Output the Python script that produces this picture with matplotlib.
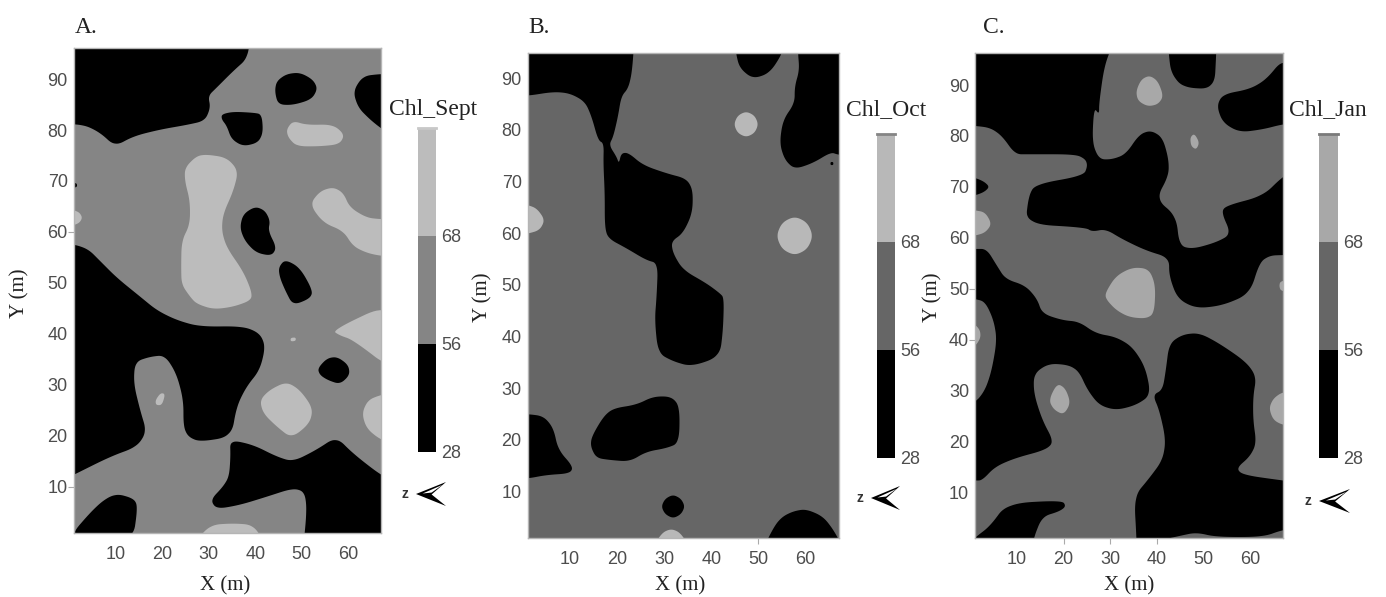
import matplotlib
matplotlib.use('Agg')
import matplotlib.pyplot as plt
import numpy as np

# Legend classes
cb_labels = ['28', '56', '68']
x_ticks = [10, 20, 30, 40, 50, 60]
y_ticks = [10, 20, 30, 40, 50, 60, 70, 80, 90]

# Sept - low class
sept_low_1 = [(-3, 100), (39, 100), (38.5, 94.2), (35.3, 91.6), (31.7, 88.3), (29.9, 86.7), (30.4, 84.4), (29.2, 81.8),
              (25.3, 81), (19.6, 80.1), (13.9, 78.8), (9.9, 76.8), (6.7, 79.5), (3.1, 81.1), (-3, 81.2)]
sept_low_2 = [(44.6, 89.6), (46.7, 91), (49.6, 91.3), (52.4, 89.9), (53.4, 88.1), (52.1, 86), (48.1, 84.9), (44.9, 85), (44.2, 87.6)]
sept_low_3 = [(70, 91), (66.9, 91), (63.1, 90.6), (61, 87.6), (62.1, 84.4), (64.6, 82.1), (66.9, 80.4), (70, 78.5)]
sept_low_4 = [(32.8, 83.1), (35.3, 83.6), (39.6, 83.4), (41.4, 83.1), (41.7, 79.5), (40.6, 77.5), (37.4, 76.8), (34.9, 78.2), (33.9, 80.8), (32.8, 82.1)]
sept_low_5 = [(40, 65), (42.1, 64.2), (43.2, 62.2), (42.8, 60.2), (44.6, 56.9), (43.5, 55.3), (40.2, 55.9), (37.8, 58.2), (36.7, 60.8), (37.4, 63.5)]
sept_low_6 = [(46.4, 54.6), (49.6, 53), (52.4, 48.4), (51.7, 46.9), (48.1, 45.6), (46.5, 48.4), (45.3, 51), (45, 53)]
sept_low_7 = [(-3, 57.6), (1, 57.6), (4.2, 56.6), (6.7, 54.3), (10.3, 51), (15.3, 47.3), (18.9, 44.6), (23.1, 42.7), (28.1, 41.4),
              (37.4, 41.5), (41, 40.1), (42.2, 37.5), (41, 32.9), (38.1, 29.6), (36, 25.7), (34.9, 19.8), (28.1, 18.8), (25.6, 19.8),
              (24.6, 21.8), (24.6, 27), (23.1, 32.2), (20.6, 35.8), (17.4, 35.5), (14.2, 34.5), (13.9, 30.3), (15.3, 25), (16.7, 20.8),
              (14.6, 17.8), (8.9, 15.9), (1, 12.3), (-3, 10.5)]
sept_low_8 = [(34.6, 19.2), (39.6, 18.2), (44.6, 15.9), (48.1, 14.9), (53.1, 17.2), (57.4, 19.8), (61, 16.5), (66.9, 12.3), (70, 11),
              (70, -3), (50.2, -3), (51.1, 5.4), (50.6, 9), (48.1, 9.7), (42.4, 8), (36.7, 6.4), (31.7, 5.6), (30.4, 7.4), (33.1, 10), (34.4, 12), (34.7, 15.9)]
sept_low_9 = [(-1, -1), (6, 6.4), (9.9, 8.7), (13.9, 7.7), (14.8, 6.1), (13.7, -1)]
sept_low_10 = [(53.4, 33.2), (55.4, 35.2), (57.6, 35.5), (60, 33.9), (60.3, 31.9), (58.2, 30.1), (55.6, 30.9), (53.9, 31.9)]
sept_low_11 = [(0.5, 69.6), (1.7, 69.6), (1.8, 68.8), (0.5, 68.6)]
sept_low = [sept_low_1, sept_low_2, sept_low_3, sept_low_4, sept_low_5, sept_low_6, sept_low_7, sept_low_8, sept_low_9, sept_low_10, sept_low_11]

# Sept - high class
sept_high_1 = [(46.7, 80.1), (48.1, 81.8), (51, 81), (56.7, 81.1), (59.2, 79.1), (58.1, 77.2), (53.9, 76.8), (48.9, 76.8), (47.1, 78.5)]
sept_high_2 = [(24.9, 72.6), (27.4, 74.9), (29.6, 75.2), (33.9, 74.6), (36.4, 72), (35.3, 68), (33.1, 63.5), (32.8, 60.2), (33.9, 56.9),
               (37.4, 52.3), (39.2, 48.4), (39.2, 46.6), (35.3, 45.3), (31, 44.8), (27.4, 45.9), (26, 47.3), (24.2, 49.7), (24.1, 53),
               (24.2, 58.2), (26, 61.5), (26, 66.1), (24.9, 70)]
sept_high_3 = [(51.7, 65.4), (53.9, 68), (56.7, 68.8), (58.9, 67.7), (60.3, 64.8), (63.9, 62.8), (66.9, 62.5), (70, 62.5), (70, 55.2),
               (66.9, 55.3), (63.9, 55.9), (61, 57.2), (58.9, 60.2), (54.6, 61.8)]
sept_high_4 = [(-1, 64.5), (1, 64.3), (2.3, 63.8), (2.9, 62.8), (2.3, 61.8), (1, 61.3), (-1, 61)]
sept_high_5 = [(41, 27), (43.1, 29), (46.7, 30.6), (49.6, 29), (52.4, 25.4), (51.7, 22.4), (47.8, 19.5), (44.6, 21.8), (41.7, 24.4)]
sept_high_6 = [(18.6, 27), (19.7, 28.4), (20.7, 28.2), (20, 26), (18.7, 26)]
sept_high_7 = [(56.5, 40.7), (70, 46.5), (70, 32.5), (61, 38.8), (58.1, 39.7)]
sept_high_8 = [(47.6, 39.2), (48.7, 39.3), (48.7, 38.6), (47.6, 38.5)]
sept_high_9 = [(70, 28.5), (66.9, 28), (64.2, 27), (62.9, 24.4), (63.9, 21.4), (66.9, 19.2), (70, 18.5)]
sept_high_10 = [(27, -1), (30.3, 2.5), (35.3, 2.8), (39.6, 2.5), (42, -1)]
sept_high = [sept_high_1, sept_high_2, sept_high_3, sept_high_4, sept_high_5, sept_high_6, sept_high_7, sept_high_8, sept_high_9, sept_high_10]

# Oct - low class
oct_low_1 = [(-3, 98), (23.7, 98), (23.2, 91.3), (22.4, 88.1), (20.9, 86.5), (20.2, 82.6), (19.2, 78.7), (18.3, 77.1), (19.9, 74.8), (20.4, 73.5),
             (20.9, 75.5), (22.4, 75.6), (25.5, 73.2), (30.5, 71.6), (34.7, 70.6), (36.1, 68.4), (36, 63.9), (34, 60), (31.5, 58.4), (31.9, 56.1),
             (34, 52.9), (39, 50.3), (41.8, 48.4), (42.7, 47.5), (42.5, 41.3), (41.8, 36.1), (35.8, 34.2), (31.9, 35.2), (28.7, 36.8), (28, 43.2),
             (28.4, 47.7), (28.7, 54.2), (26.2, 54.8), (22, 57.1), (18.1, 59), (17.4, 61.3), (17.4, 67.7), (17.1, 73.5), (17.2, 77.4), (16, 78),
             (14.6, 82.6), (13.2, 85.5), (10, 87.1), (6.5, 87.4), (1, 86.6), (-3, 86.6)]
oct_low_2 = [(45, 98), (45.2, 95), (46, 92), (48.8, 89.9), (52.4, 91), (55.2, 95), (55.6, 98)]
oct_low_3 = [(58.4, 98), (58.4, 95), (58.7, 91.6), (57.7, 88.4), (57.7, 85.2), (55.2, 81.9), (54.5, 77.4), (55.6, 74.2), (57.7, 72.4),
             (61.6, 73.6), (65.4, 75.7), (66.9, 75.2), (70, 75), (70, 98)]
oct_low_4 = [(-3, 25), (1, 25), (4.4, 24.6), (6.5, 22.3), (7.5, 18.1), (10.7, 14.8), (10, 13.5), (5, 13.2), (1, 12.5), (-3, 12.5)]
oct_low_5 = [(14.6, 20.6), (17.1, 24.5), (19.2, 26.1), (24.1, 26.8), (27.7, 28.4), (31.5, 28.4), (33.3, 26.5), (33.2, 19.4), (30.5, 18.4),
             (26.2, 17.7), (22.7, 15.8), (18.5, 16.1), (15.6, 16.5), (14.4, 18.7)]
oct_low_6 = [(31.9, 9.4), (33.6, 8.6), (34.4, 7.1), (33.6, 5.6), (31.9, 4.8), (30.2, 5.6), (29.4, 7.1), (30.2, 8.6)]
oct_low_7 = [(51, -1), (53.5, 3.5), (55.2, 5.2), (57.5, 6.2), (60.1, 6.6), (63.7, 5.2), (66, 2.5), (68, -1)]
oct_low_8 = [(65.3, 73.8), (65.9, 73.8), (65.9, 73.2), (65.3, 73.2)]
oct_low = [oct_low_1, oct_low_2, oct_low_3, oct_low_4, oct_low_5, oct_low_6, oct_low_7, oct_low_8]

# Oct - high class
oct_high_1 = [(47.4, 83.6), (49.2, 82.8), (50, 81.1), (49.2, 79.4), (47.4, 78.6), (45.6, 79.4), (44.8, 81.1), (45.6, 82.8)]
oct_high_2 = [(57.7, 63.3), (60.4, 62.1), (61.6, 59.5), (60.4, 56.9), (57.7, 55.7), (55, 56.9), (53.8, 59.5), (55, 62.1)]
oct_high_3 = [(-1, 65.5), (1, 65.5), (3, 64.8), (4.7, 62.6), (3.6, 60.6), (1, 59.9), (-1, 59.9)]
oct_high_4 = [(27.5, -1), (29.5, 2), (31.5, 2.8), (33.5, 2), (35.5, -1)]
oct_high = [oct_high_1, oct_high_2, oct_high_3, oct_high_4]

# Jan - low class
jan_low_1 = [(-3, 98), (30.5, 98), (28.7, 93.7), (27.6, 86.5), (27.6, 84.2), (26.5, 85.6), (26.1, 78.7), (27.6, 75.4), (30.4, 75.4), (33.3, 76.4),
             (36.2, 80.3), (38.7, 81.1), (41.2, 79.7), (42.5, 75.4), (42.5, 72.2), (39.8, 67.6), (44.1, 64.3), (44.8, 58.4), (47.7, 57.8), (52.7, 59.1),
             (55.9, 60.7), (53.8, 65), (54.8, 66.3), (62.7, 68.2), (66.9, 72), (70, 73.5), (70, 56.6), (66.9, 56.6), (64.2, 56.5), (62, 55.2), (59.9, 49),
             (54.1, 46.7), (48.4, 46.1), (44.4, 48), (42.6, 52.5), (42.6, 56.1), (37.6, 57.5), (32.6, 59.7), (29, 61.7), (26.1, 61.2), (24.7, 62),
             (11.8, 62.7), (12.5, 68.2), (13.9, 70.5), (24.3, 72.2), (25.1, 74.1), (24.7, 75.4), (22.6, 76.4), (12.5, 76.4), (9.6, 76.4), (6.8, 80),
             (4.3, 81.6), (1, 82), (-3, 82)]
jan_low_2 = [(42.5, 98), (42.5, 96.3), (43, 92.4), (45.5, 89.5), (52.3, 89.2), (52.7, 96.3), (52.7, 98)]
jan_low_3 = [(70, 93), (66.9, 95), (63.4, 91.1), (59.9, 89.2), (54.1, 88.2), (52.8, 85.9), (54.1, 82.6), (57.7, 80.7), (62.7, 81.3), (66.9, 82.3), (70, 82.5)]
jan_low_4 = [(-1, 71.8), (1, 71.8), (3, 71), (4.1, 70), (3, 69), (1, 68.3), (-1, 68.3)]
jan_low_5 = [(-3, 57.8), (1, 57.8), (3.5, 57.8), (5.7, 54.5), (7.5, 51.9), (11.8, 50.6), (14.3, 48), (15.4, 45.1), (19.7, 43.8), (23.3, 43.5),
             (26.9, 41.2), (31.2, 40.5), (34.7, 38.6), (37.5, 34.6), (38.7, 29.1), (35.5, 27.1), (31.2, 26.1), (27.6, 27.1), (25.1, 30.1), (23.3, 33.7),
             (21.1, 35), (16.8, 35.3), (13.6, 33.3), (13.6, 29.4), (15.4, 24.2), (17.9, 19.9), (16.1, 18.3), (9.6, 16.7), (5.3, 15), (2.5, 12.3), (1, 12.3),
             (-3, 12.3), (-3, 27.2), (1, 27.5), (3.2, 30.1), (4.6, 34), (5.7, 39.9), (5, 43.8), (3.2, 47.4), (1, 48), (-3, 48)]
jan_low_6 = [(42.6, 39.2), (45.5, 41), (49.1, 41.3), (53.4, 39.2), (59.1, 35.6), (61.3, 32.7), (60.6, 28.8), (60.6, 24.2), (61.3, 19.6), (59.9, 17),
             (57, 14.7), (58.4, 13.4), (66.9, 12.3), (70, 12), (70, 2.8), (66.9, 2.6), (62.7, 1.2), (52.7, 1.2), (48.4, 2.1), (44.8, 1.4), (38, 0),
             (35.7, -3), (35.6, 1.1), (35.1, 9.2), (38.3, 12.7), (41.2, 16.3), (41.9, 20.3), (40.5, 26.1), (39.1, 29.1), (41.2, 30.1), (41.9, 34)]
jan_low_7 = [(-1, -1), (1, 1.1), (4.2, 3.3), (7.8, 7.8), (19.7, 8.4), (20.5, 7.2), (19, 6.2), (15.4, 5.2), (13.6, 1.1), (13.4, -1)]
jan_low = [jan_low_1, jan_low_2, jan_low_3, jan_low_4, jan_low_5, jan_low_6, jan_low_7]

# Jan - high class
jan_high_1 = [(35.5, 88.8), (36.6, 91.1), (38.4, 91.9), (40.2, 90.8), (41.4, 87.8), (40.2, 86.2), (38, 85.8), (35.9, 86.9)]
jan_high_2 = [(47.1, 79.7), (48, 80.5), (49.1, 78.7), (48.4, 77.3), (47.3, 78)]
jan_high_3 = [(-1, 65.4), (1, 65.4), (3.2, 65), (4.6, 62.7), (3.2, 61), (1, 60.4), (-1, 60.4)]
jan_high_4 = [(-1, 43), (1, 43), (2.1, 41.8), (2.2, 40.3), (1, 38.6), (-1, 38.6)]
jan_high_5 = [(29, 49.3), (31.2, 52.5), (34.7, 54.2), (38.3, 53.9), (39.7, 50.6), (39.4, 45.1), (37.6, 44.1), (34, 44.4), (31.2, 45.8), (29, 48)]
jan_high_6 = [(68, 51.7), (66.4, 51.4), (66.2, 50.5), (66.5, 49.6), (68, 49.4)]
jan_high_7 = [(70, 29.8), (66.9, 29.7), (64.9, 28.4), (64, 26.5), (64.9, 24.2), (66.9, 23.2), (70, 23)]
jan_high_8 = [(16.8, 28.1), (18.6, 31.4), (20.4, 30.4), (21.5, 27.5), (20, 25.2), (17.9, 26.2)]
jan_high = [jan_high_1, jan_high_2, jan_high_3, jan_high_4, jan_high_5, jan_high_6, jan_high_7, jan_high_8]

# North arrow outline (unit box)
arrow_x = [0.0, 1.0, 0.52, 1.0]
arrow_y = [0.5, 1.0, 0.48, 0.0]
arrow_in_x = [0.22, 0.88, 0.52]
arrow_in_y = [0.52, 0.88, 0.56]

FIG_W, FIG_H = 1386, 597
GREY_TXT = '#4d4d4d'
plt.rcParams['font.family'] = ['Liberation Sans', 'DejaVu Sans']


def px_axes(fig, left, right, top, bottom):
    # axes box given in image pixels
    return fig.add_axes([left / FIG_W, 1 - bottom / FIG_H, (right - left) / FIG_W, (bottom - top) / FIG_H])


def px_text(fig, x, y, s, **kw):
    fig.text(x / FIG_W, 1 - y / FIG_H, s, family='Liberation Serif', color='#222222', **kw)


def chaikin(points, n=4, cut=0.23):
    # round the traced outlines a bit, small cut so the zones do not shrink much
    p = np.array(points, dtype=float)
    for _ in range(n):
        q = np.roll(p, -1, axis=0)
        p = np.column_stack([(1 - cut) * p + cut * q, cut * p + (1 - cut) * q]).reshape(-1, 2)
    return p


def draw_map(fig, box, ylim_top, low_zones, high_zones, mid_color, high_color, mark_x, mark_y):
    ax = px_axes(fig, *box)
    ax.set_facecolor(mid_color)
    for zone in low_zones:
        p = chaikin(zone)
        ax.fill(p[:, 0], p[:, 1], color='black', lw=0)
    for zone in high_zones:
        p = chaikin(zone)
        ax.fill(p[:, 0], p[:, 1], color=high_color, lw=0)
    ax.set_xlim(1, 67)
    ax.set_ylim(1, ylim_top)
    ax.set_xticks(x_ticks)
    ax.set_yticks(y_ticks)
    ax.tick_params(axis='x', length=4, width=0.8, color='#aaaaaa', pad=5.5, labelsize=13, labelcolor=GREY_TXT)
    ax.tick_params(axis='y', length=4, width=0.8, color='#aaaaaa', pad=0.2, labelsize=13, labelcolor=GREY_TXT)
    # the source only shows a few tick marks
    for val, tick in zip(x_ticks, ax.xaxis.get_major_ticks()):
        tick.tick1line.set_visible(val in mark_x)
    for val, tick in zip(y_ticks, ax.yaxis.get_major_ticks()):
        tick.tick1line.set_visible(val in mark_y)
    for sp in ax.spines.values():
        sp.set_color('#b5b5b5')
        sp.set_linewidth(1.0)
    return ax


def draw_legend(fig, box, colors, top_color):
    ax = px_axes(fig, *box)
    for i, c in enumerate(colors):
        ax.bar(0, 1, bottom=i, width=1, color=c, lw=0)
    ax.set_xlim(-0.5, 0.5)
    ax.set_ylim(0, len(colors))
    ax.set_xticks([])
    ax.set_yticks(range(len(cb_labels)))
    ax.set_yticklabels(cb_labels)
    ax.yaxis.tick_right()
    ax.tick_params(axis='y', length=0, pad=4, labelsize=13, labelcolor=GREY_TXT)
    for sp in ax.spines.values():
        sp.set_visible(False)
    ax.spines['top'].set_visible(True)
    ax.spines['top'].set_color(top_color)
    ax.spines['top'].set_linewidth(2.0)


def draw_north(fig, left, right, top, bottom):
    ax = px_axes(fig, left, right, top, bottom)
    ax.fill(arrow_x, arrow_y, color='black', lw=0)
    ax.fill(arrow_in_x, arrow_in_y, color='white', lw=0)
    ax.set_xlim(0, 1)
    ax.set_ylim(0, 1)
    ax.axis('off')
    fig.text((left - 11) / FIG_W, 1 - (top + bottom) / 2 / FIG_H, 'z', fontsize=10, fontweight='bold', ha='center', va='center', color='#333333')


fig = plt.figure(figsize=(FIG_W / 100, FIG_H / 100), dpi=100)

draw_map(fig, (73.5, 381, 47.5, 532.5), 96.2, sept_low, sept_high, '#858585', '#bcbcbc', [], [10, 60])
draw_map(fig, (527.5, 838.5, 52.5, 538), 95, oct_low, oct_high, '#666666', '#b8b8b8', [50], [])
draw_map(fig, (975, 1283, 53, 538), 96.3, jan_low, jan_high, '#666666', '#a8a8a8', [20, 30, 40], [40, 50])

draw_legend(fig, (418, 436, 128, 452), ['black', '#858585', '#bcbcbc'], '#c8c8c8')
draw_legend(fig, (876.5, 895, 133.5, 458), ['black', '#666666', '#b8b8b8'], '#858585')
draw_legend(fig, (1319, 1337.5, 133.5, 458), ['black', '#666666', '#a8a8a8'], '#7a7a7a')

draw_north(fig, 416, 446, 482, 506)
draw_north(fig, 871, 900, 486, 510)
draw_north(fig, 1319, 1350, 489, 513)

# Panel letters
for x, s in zip([75, 528, 983], ['A.', 'B.', 'C.']):
    px_text(fig, x, 33, s, fontsize=17, ha='left', va='baseline')

# Legend titles
for x, s in zip([389, 846, 1289], ['Chl_Sept', 'Chl_Oct', 'Chl_Jan']):
    px_text(fig, x, 115, s, fontsize=17, ha='left', va='baseline')

# Axis titles
for x, y in zip([225, 680, 1129], [586, 586, 586]):
    px_text(fig, x, y, 'X (m)', fontsize=15, ha='center', va='center')
for x, y in zip([20, 483, 933], [293, 297, 297]):
    px_text(fig, x, y, 'Y (m)', fontsize=15, ha='center', va='center', rotation=90)

fig.savefig('out.png', dpi=100)
